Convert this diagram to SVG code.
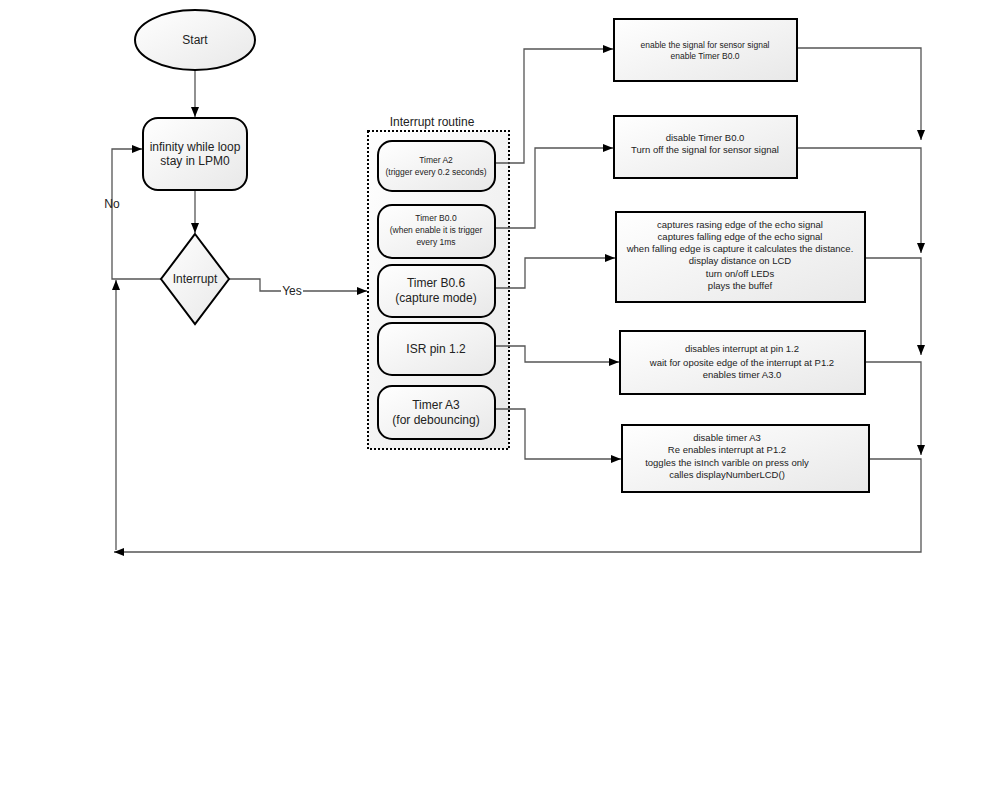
<svg xmlns="http://www.w3.org/2000/svg" width="1000" height="800" viewBox="0 0 1000 800">
<defs>
<linearGradient id="g" x1="0" y1="0" x2="1" y2="1">
<stop offset="0" stop-color="#ffffff"/>
<stop offset="1" stop-color="#e8e8e8"/>
</linearGradient>
<marker id="ah" viewBox="0 0 10 10" refX="10" refY="5" markerWidth="10" markerHeight="10" markerUnits="userSpaceOnUse" orient="auto">
<path d="M0,1 L10,5 L0,9 Z" fill="#000"/>
</marker>
<style>
.shape{fill:url(#g);stroke:#000;stroke-width:2}
.edge{fill:none;stroke:#555;stroke-width:1.3;marker-end:url(#ah)}
text{font-family:"Liberation Sans",Arial,sans-serif;fill:#222;text-anchor:middle}
.t12{font-size:12px}
.t9{font-size:9.5px}
.t8{font-size:8.5px}
</style>
</defs>
<rect width="1000" height="800" fill="#fff"/>

<g id="routine">
<rect x="368" y="131" width="141" height="318" fill="url(#g)" stroke="#000" stroke-width="2" stroke-dasharray="2,2"/>
<text class="t12" x="432" y="126">Interrupt routine</text>
</g>

<g id="connectors">
<path class="edge" d="M195,70 L195,117"/>
<path class="edge" d="M195,190 L195,233"/>
<path class="edge" d="M161,279 L112,279 L112,149 L142,149"/>
<path class="edge" d="M229,279 L260,279 L260,291 L367,291"/>
<path class="edge" d="M495,163 L524,163 L524,49 L613,49"/>
<path class="edge" d="M495,228 L535,228 L535,148 L613,148"/>
<path class="edge" d="M495,288 L525,288 L525,258 L615,258"/>
<path class="edge" d="M495,346 L525,346 L525,362 L619,362"/>
<path class="edge" d="M495,409 L525,409 L525,459 L621,459"/>
<path class="edge" d="M797,48 L921,48 L921,140"/>
<path class="edge" d="M797,148 L921,148 L921,253"/>
<path class="edge" d="M865,258 L921,258 L921,355"/>
<path class="edge" d="M865,362 L921,362 L921,455"/>
<path class="edge" d="M869,459 L921,459 L921,552 L114,552"/>
<path class="edge" d="M116,550 L116,280"/>
<text class="t12" x="112" y="208">No</text>
<rect x="281" y="284" width="22" height="14" fill="#fff"/>
<text class="t12" x="292" y="295">Yes</text>
</g>

<g id="start">
<ellipse class="shape" cx="195" cy="40" rx="60" ry="30"/>
<text class="t12" x="195" y="44">Start</text>
</g>

<g id="loop">
<rect class="shape" x="143" y="118" width="104" height="72" rx="15"/>
<text class="t12" x="195" y="151">infinity while loop</text>
<text class="t12" x="195" y="165">stay in LPM0</text>
</g>

<g id="interrupt">
<polygon class="shape" points="195,234 229,279 195,324 161,279"/>
<text class="t12" x="195" y="283">Interrupt</text>
</g>

<g id="timerA2">
<rect class="shape" x="378" y="141" width="117" height="50" rx="14"/>
<text class="t8" x="436" y="163">Timer A2</text>
<text class="t8" x="436" y="175">(trigger every 0.2 seconds)</text>
</g>

<g id="timerB00">
<rect class="shape" x="378" y="205" width="117" height="53" rx="14"/>
<text class="t8" x="436" y="221">Timer B0.0</text>
<text class="t8" x="436" y="233">(when enable it is trigger</text>
<text class="t8" x="436" y="245">every 1ms</text>
</g>

<g id="timerB06">
<rect class="shape" x="378" y="265" width="117" height="52" rx="14"/>
<text class="t12" x="436" y="287">Timer B0.6</text>
<text class="t12" x="436" y="302">(capture mode)</text>
</g>

<g id="isr">
<rect class="shape" x="378" y="323" width="117" height="52" rx="14"/>
<text class="t12" x="436" y="353">ISR pin 1.2</text>
</g>

<g id="timerA3">
<rect class="shape" x="378" y="386" width="117" height="53" rx="14"/>
<text class="t12" x="436" y="409">Timer A3</text>
<text class="t12" x="436" y="424">(for debouncing)</text>
</g>

<g id="box1">
<rect class="shape" x="614" y="19" width="183" height="62"/>
<text class="t8" x="705" y="48">enable the signal for sensor signal</text>
<text class="t8" x="705" y="59">enable Timer B0.0</text>
</g>

<g id="box2">
<rect class="shape" x="614" y="116" width="183" height="62"/>
<text class="t9" x="705" y="141">disable Timer B0.0</text>
<text class="t9" x="705" y="153">Turn off the signal for sensor signal</text>
</g>

<g id="box3">
<rect class="shape" x="616" y="212" width="249" height="90"/>
<text class="t9" x="740" y="228">captures rasing edge of the echo signal</text>
<text class="t9" x="740" y="240">captures falling edge of the echo signal</text>
<text class="t9" x="740" y="252">when falling edge is capture it calculates the distance.</text>
<text class="t9" x="740" y="264">display distance on LCD</text>
<text class="t9" x="740" y="277">turn on/off LEDs</text>
<text class="t9" x="740" y="289">plays the buffef</text>
</g>

<g id="box4">
<rect class="shape" x="620" y="331" width="245" height="63"/>
<text class="t9" x="742" y="352">disables interrupt at pin 1.2</text>
<text class="t9" x="742" y="366">wait for oposite edge of the interrupt at P1.2</text>
<text class="t9" x="742" y="378">enables timer A3.0</text>
</g>

<g id="box5">
<rect class="shape" x="622" y="425" width="247" height="67"/>
<text class="t9" x="727" y="441">disable timer A3</text>
<text class="t9" x="727" y="453">Re enables interrupt at P1.2</text>
<text class="t9" x="727" y="466">toggles the isInch varible on press only</text>
<text class="t9" x="727" y="478">calles displayNumberLCD()</text>
</g>
</svg>
